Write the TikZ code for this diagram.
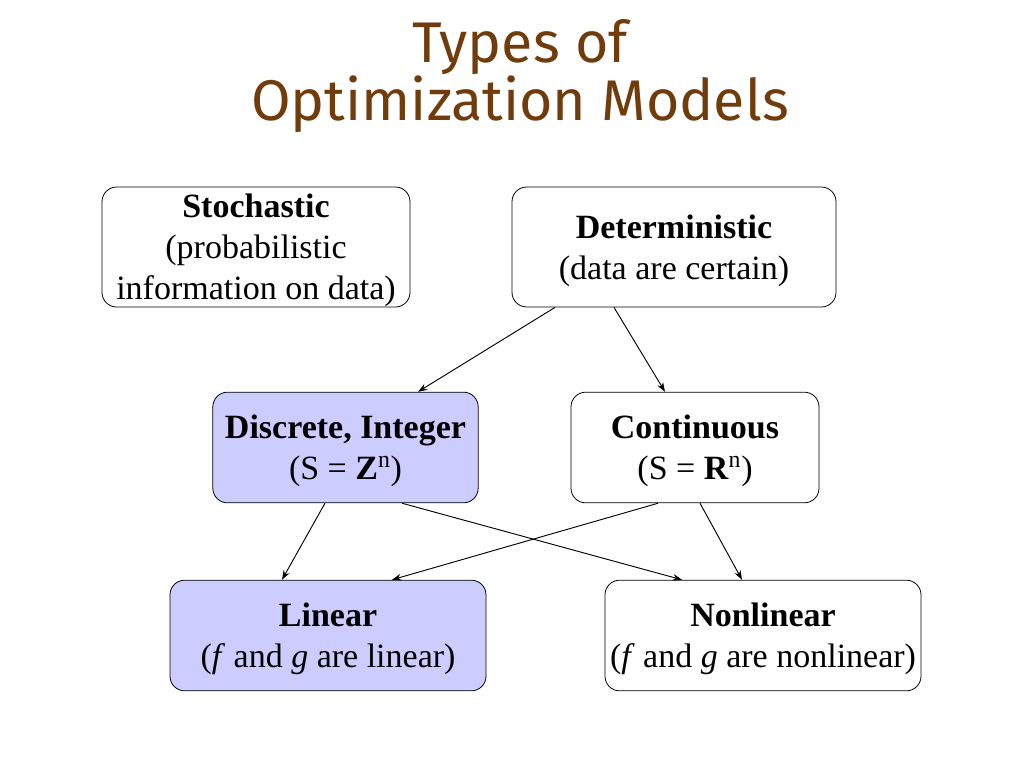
\documentclass[tikz,border=0pt]{standalone}
\usepackage{fontspec}
\setmainfont{Liberation Serif}
\newfontfamily\titlefont{Fira Sans}
\usetikzlibrary{arrows.meta}
\definecolor{titlebrown}{RGB}{112,60,12}
\definecolor{boxblue}{RGB}{204,204,255}
\tikzset{
  model/.style={draw, rounded corners=11pt, line width=0.6pt, align=center, inner sep=0pt,
    text depth=-1.5pt, font=\fontsize{25.5}{30.75}\selectfont},
  intmodel/.style={model, fill=boxblue},
  link/.style={-{Stealth[length=7pt,width=5pt]}, line width=0.7pt}
}
\begin{document}
\begin{tikzpicture}[x=0.75pt,y=-0.75pt]
\fill[white] (0,0) rectangle (1024,768);
\node[titlebrown, align=center, font=\titlefont\fontsize{43}{40.5}\selectfont] (title) at (520,76) {Types of\\Optimization Models};
% top row
\node[model, minimum width=231pt, minimum height=90pt] (stoch) at (256,247) {\textbf{Stochastic}\\(probabilistic\\information on data)};
\node[model, minimum width=243pt, minimum height=90pt] (det) at (674,247) {\textbf{Deterministic}\\(data are certain)};
% middle row
\node[intmodel, minimum width=199pt, minimum height=83pt] (disc) at (345.5,447.5) {\textbf{Discrete, Integer}\\(S = \textbf{Z}\textsuperscript{n})};
\node[model, minimum width=186pt, minimum height=83pt] (cont) at (695,447.5) {\textbf{Continuous}\\(S = \textbf{R}\textsuperscript{n})};
% bottom row
\node[intmodel, minimum width=237pt, minimum height=83pt] (lin) at (328,635.5) {\textbf{Linear}\\(\textit{f} and \textit{g} are linear)};
\node[model, minimum width=237pt, minimum height=83pt] (nonlin) at (763,635.5) {\textbf{Nonlinear}\\(\textit{f} and \textit{g} are nonlinear)};
% arrows
\draw[link] ([xshift=-89.25pt]det.south) -- ([xshift=54.4pt]disc.north);
\draw[link] ([xshift=-45pt]det.south) -- ([xshift=-22.5pt]cont.north);
\draw[link] ([xshift=-15.4pt]disc.south) -- ([xshift=-34.5pt]lin.north);
\draw[link] ([xshift=42.4pt]disc.south) -- ([xshift=-60.75pt]nonlin.north);
\draw[link] ([xshift=-27.75pt]cont.south) -- ([xshift=48pt]lin.north);
\draw[link] ([xshift=3.75pt]cont.south) -- ([xshift=-15.75pt]nonlin.north);
\end{tikzpicture}
\end{document}
